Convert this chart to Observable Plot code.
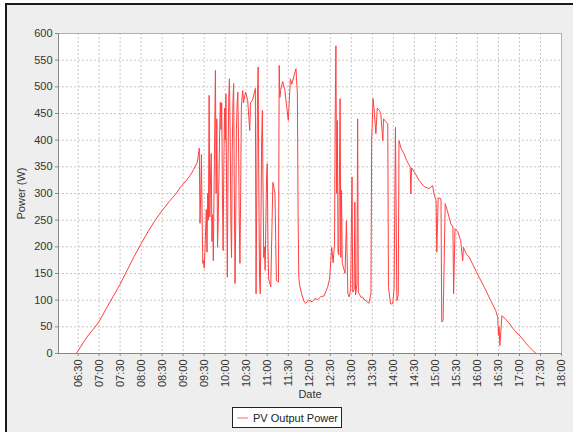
<!DOCTYPE html>
<html>
<head>
<meta charset="utf-8">
<script src="https://cdn.jsdelivr.net/npm/d3@7"></script>
<script src="https://cdn.jsdelivr.net/npm/@observablehq/plot@0.6"></script>
<style>
  html, body { margin: 0; padding: 0; background: #ffffff; }
  #page { position: relative; width: 573px; height: 432px; overflow: hidden; font-family: "Liberation Sans", Arial, sans-serif; }
  #panel { position: absolute; left: 5px; top: 3px; width: 566px; height: 431px; background: #eeeeee;
           border-top: 2px solid #1a1a1a; border-left: 2px solid #1a1a1a; }
  #chart { position: absolute; left: 0; top: 0; }
  #legend { position: absolute; left: 232px; top: 407px; width: 108px; height: 19px; background: #ffffff;
            border: 1px solid #222; display: flex; align-items: center; font-size: 11px; color: #222; }
  #legend svg { margin-left: 4px; margin-right: 5px; }
</style>
</head>
<body>
<div id="page">
  <div id="panel"></div>
  <div id="chart"></div>
  <div id="legend"><svg width="11" height="4"><line x1="0" x2="11" y1="2" y2="2" stroke="#ff6666" stroke-width="1"/></svg><span id="legendText"></span></div>
</div>
<script>
const seriesName = "PV Output Power";
const xTitle = "Date";
const yTitle = "Power (W)";
const xTickLabels = ["06:30","07:00","07:30","08:00","08:30","09:00","09:30","10:00","10:30","11:00","11:30","12:00","12:30","13:00","13:30","14:00","14:30","15:00","15:30","16:00","16:30","17:00","17:30","18:00"];
const yTickValues = [0,50,100,150,200,250,300,350,400,450,500,550,600];

const times = [
"06:02","06:15","06:27","06:30","06:38","06:45","06:52","07:00","07:10","07:20","07:30","07:40","07:50","08:00","08:10","08:20","08:30","08:40","08:50","08:56","09:05","09:10","09:15","09:20","09:23",
"09:24","09:25","09:26","09:27","09:28","09:29","09:30","09:31","09:32","09:33","09:34","09:35","09:36","09:37","09:38","09:39","09:40","09:41","09:42","09:43","09:44","09:45","09:46","09:47","09:48","09:49","09:50","09:51","09:52","09:53","09:54","09:55","09:56","09:57","09:58","09:59",
"10:00","10:01","10:02","10:03","10:04","10:05","10:06","10:07","10:08","10:09","10:10","10:11","10:12","10:13","10:14","10:15","10:16","10:17","10:18","10:19","10:20","10:21","10:22","10:23","10:24","10:25","10:26","10:29","10:32","10:35","10:36","10:39","10:43",
"10:44","10:45","10:46","10:47","10:48","10:49","10:50","10:51","10:52","10:53","10:54","10:55","10:56","10:57","10:58","10:59",
"11:00","11:01","11:02","11:05","11:08","11:11","11:13","11:16","11:17","11:18","11:19","11:22","11:25","11:30","11:33","11:35","11:38","11:41","11:43","11:44","11:45","11:46","11:49","11:53","11:55","11:59",
"12:04","12:08","12:12","12:16","12:21","12:26","12:29","12:32","12:34","12:36","12:37","12:38","12:39","12:40","12:41","12:42","12:44","12:45","12:46","12:47","12:49","12:51","12:53","12:55","12:57","12:59",
"13:01","13:02","13:04","13:05","13:06","13:08","13:09","13:10","13:12","13:14","13:16","13:19","13:22","13:25","13:28","13:29","13:31","13:33","13:35","13:37","13:40","13:42","13:45","13:46","13:49","13:52","13:53","13:56","13:59",
"14:01","14:03","14:05","14:07","14:08","14:11","14:15","14:19","14:23","14:24","14:25","14:26","14:30","14:37","14:44","14:51","14:56","14:58",
"15:01","15:02","15:04","15:08","15:09","15:11","15:14","15:17","15:22","15:25","15:26","15:28","15:32","15:36","15:39","15:40","15:44","15:48","15:53",
"16:00","16:10","16:19","16:26","16:29","16:30","16:31","16:32","16:35","16:44","16:53","17:02","17:12","17:21","17:24","17:40","18:00"
];
const power = [
0,0,0,5,22,35,46,60,84,107,130,156,182,206,229,250,268,285,300,312,325,334,345,358,385,
244,300,373,250,169,175,160,190,230,270,190,300,250,484,256,330,375,210,260,174,300,420,531,300,440,199,250,330,410,471,420,470,300,193,350,460,
400,487,300,143,350,480,515,420,250,180,380,470,506,300,131,250,420,470,490,400,250,169,300,460,480,493,470,490,475,418,470,475,497,
112,300,480,537,300,140,112,250,400,456,300,180,200,156,250,330,
356,200,140,125,321,300,137,134,540,480,493,510,495,437,515,505,520,534,487,265,143,130,112,96,94,100,
97,103,101,106,108,124,140,199,170,205,450,577,300,437,190,185,478,180,306,170,160,150,249,112,106,120,
331,115,120,284,110,130,440,115,110,105,106,100,98,94,112,399,478,450,412,460,456,450,399,440,435,431,124,93,93,
120,424,99,110,399,385,375,362,352,349,299,348,340,324,313,309,315,299,
287,190,292,290,59,62,281,268,243,237,112,234,228,212,174,199,187,181,168,
149,124,99,81,68,34,50,15,71,59,43,31,15,3,0,0,0
];

const parseT = s => { const [h, m] = s.split(":").map(Number); return new Date(Date.UTC(2020, 0, 1, h, m)); };
const data = times.map((t, i) => ({t: parseT(t), v: power[i]}));
const xTicks = xTickLabels.map(parseT);

const chart = Plot.plot({
  width: 573,
  height: 400,
  marginLeft: 58,
  marginRight: 12,
  marginTop: 33,
  marginBottom: 47,
  style: {background: "transparent", fontFamily: "'Liberation Sans', Arial, sans-serif", fontSize: "11px", color: "#333"},
  x: {type: "utc", domain: [parseT(times[0]), parseT(times[times.length - 1])]},
  y: {domain: [0, 600]},
  marks: [
    Plot.frame({fill: "white", stroke: "none"}),
    Plot.gridX(xTicks, {stroke: "#c8c8c8", strokeOpacity: 1, strokeDasharray: "2,2"}),
    Plot.gridY(yTickValues, {stroke: "#c8c8c8", strokeOpacity: 1, strokeDasharray: "2,2"}),
    Plot.line(data, {x: "t", y: "v", stroke: "#ff4040", strokeWidth: 1}),
    Plot.frame({anchor: "top", stroke: "#b0b0b0"}),
    Plot.frame({anchor: "right", stroke: "#b0b0b0"}),
    Plot.frame({anchor: "left", stroke: "#888"}),
    Plot.frame({anchor: "bottom", stroke: "#888"}),
    Plot.axisX(xTicks, {tickRotate: -90, tickFormat: d3.utcFormat("%H:%M"), tickSize: 3, tickPadding: 3,
      stroke: "#888", fill: "#333", label: xTitle, labelAnchor: "center", labelArrow: "none", labelOffset: 44, fontSize: 11}),
    Plot.axisY(yTickValues, {tickSize: 3, tickPadding: 3, stroke: "#888", fill: "#333",
      label: yTitle, labelAnchor: "center", labelArrow: "none", labelOffset: 41, fontSize: 11})
  ]
});
document.getElementById("chart").appendChild(chart);
document.getElementById("legendText").textContent = seriesName;
</script>
</body>
</html>
